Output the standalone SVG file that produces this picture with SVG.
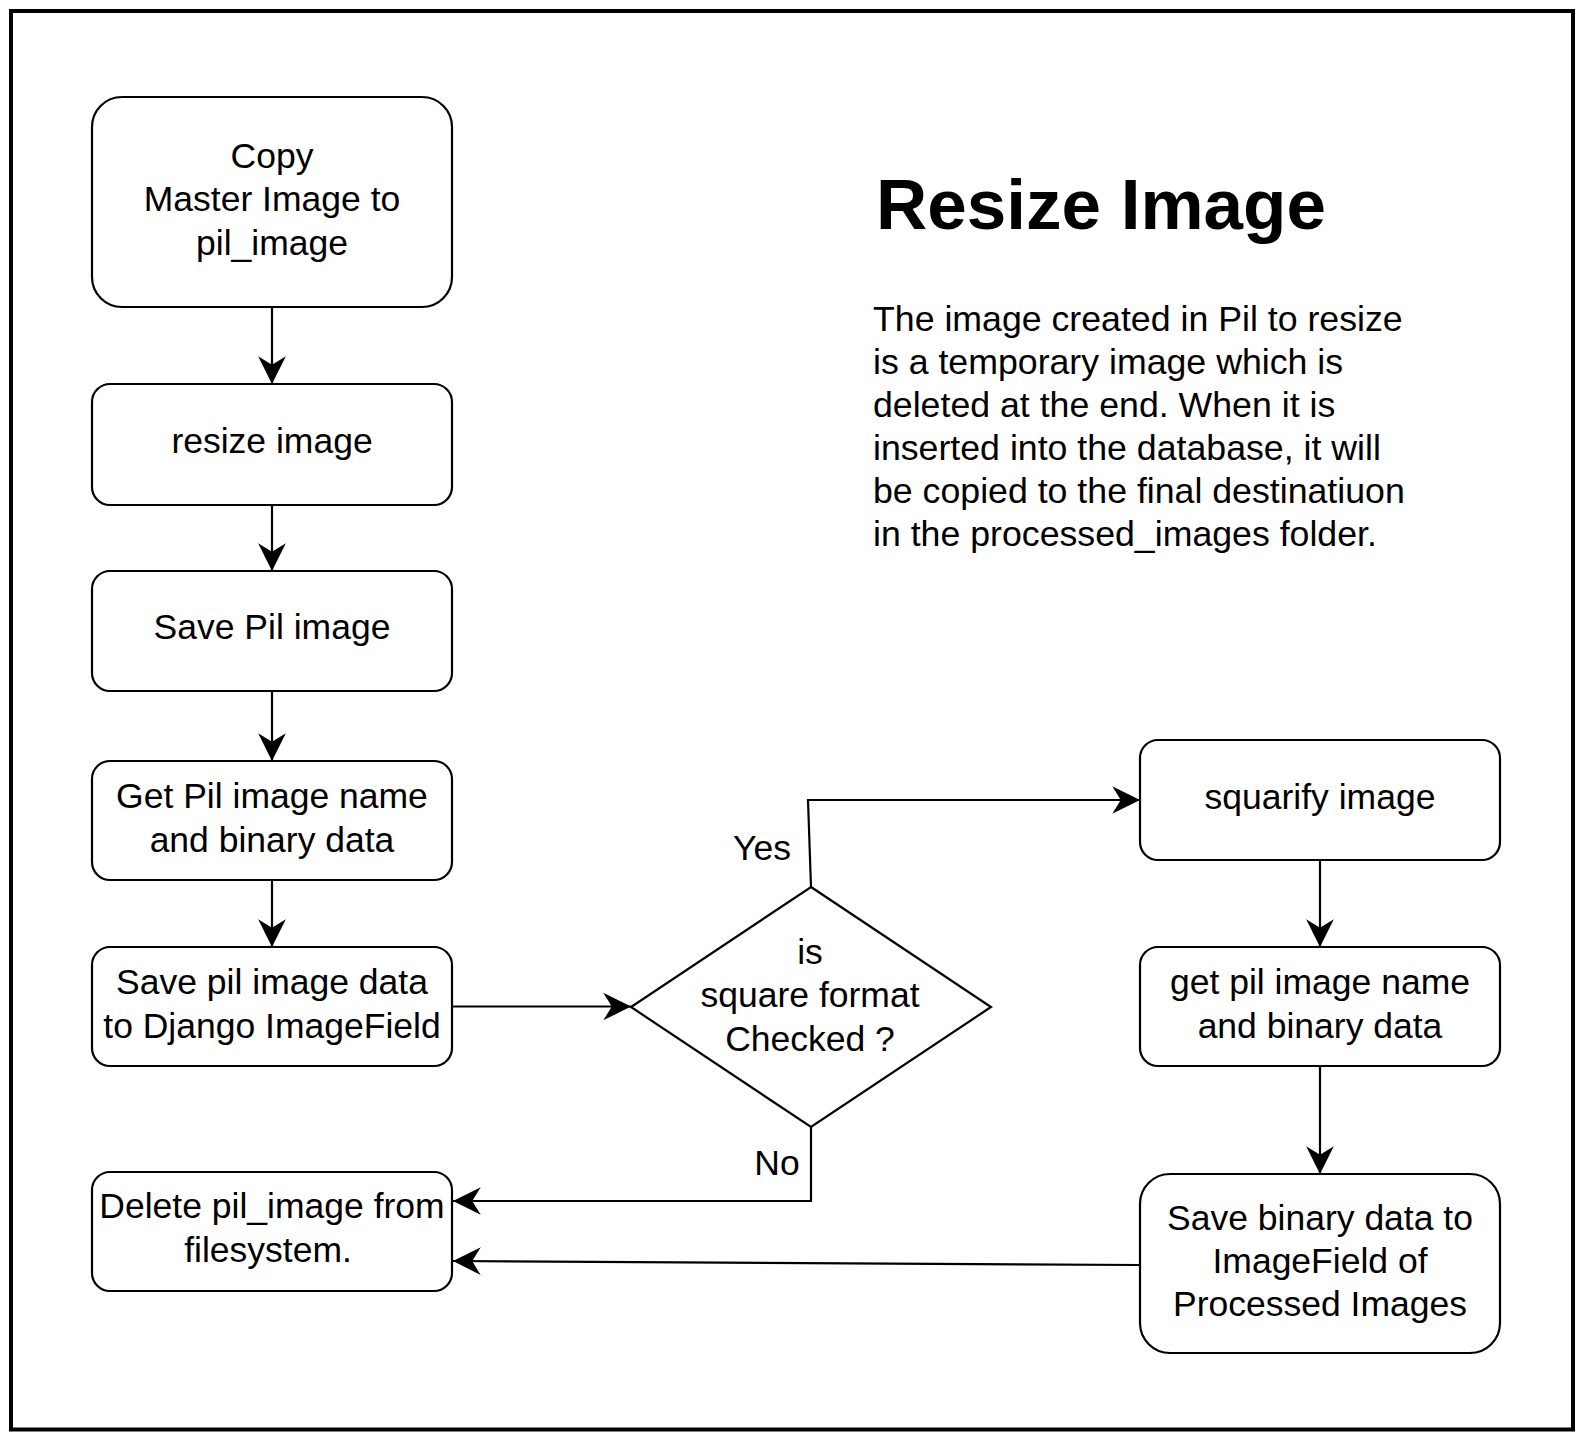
<svg xmlns="http://www.w3.org/2000/svg" width="1586" height="1442" viewBox="0 0 1586 1442">
<defs>
<style>
.box{fill:#fff;stroke:#000;stroke-width:2.2}
.t{font-family:"Liberation Sans",Arial,sans-serif;font-size:35.5px;fill:#000;text-anchor:middle}
.p{font-family:"Liberation Sans",Arial,sans-serif;font-size:35.7px;fill:#000}
.c{fill:none;stroke:#000;stroke-width:2.2}
</style>
<marker id="ah" markerUnits="userSpaceOnUse" markerWidth="32" markerHeight="32" viewBox="-28 -15 30 30" refX="0" refY="0" orient="auto">
<path d="M0,0 L-26,-13 L-18,0 L-26,13 Z" fill="#000"/>
</marker>
</defs>
<rect x="0" y="0" width="1586" height="1442" fill="#fff"/>
<rect x="11" y="11" width="1562" height="1418.5" fill="none" stroke="#000" stroke-width="4"/>

<g id="title">
<text x="876" y="229" font-family="'Liberation Sans',Arial,sans-serif" font-size="71" font-weight="bold">Resize Image</text>
</g>
<g id="note">
<text class="p" x="873" y="331">The image created in Pil to resize</text>
<text class="p" x="873" y="374">is a temporary image which is</text>
<text class="p" x="873" y="417">deleted at the end. When it is</text>
<text class="p" x="873" y="460">inserted into the database, it will</text>
<text class="p" x="873" y="503">be copied to the final destinatiuon</text>
<text class="p" x="873" y="546">in the processed_images folder.</text>
</g>

<g id="connectors">
<line class="c" x1="272" y1="307" x2="272" y2="384" marker-end="url(#ah)"/>
<line class="c" x1="272" y1="505" x2="272" y2="571" marker-end="url(#ah)"/>
<line class="c" x1="272" y1="691" x2="272" y2="761" marker-end="url(#ah)"/>
<line class="c" x1="272" y1="880" x2="272" y2="947" marker-end="url(#ah)"/>
<line class="c" x1="452" y1="1006.5" x2="631" y2="1006.5" marker-end="url(#ah)"/>
<polyline class="c" points="811,887 808,800 1140,800" marker-end="url(#ah)"/>
<polyline class="c" points="811,1127 811,1201 453,1201" marker-end="url(#ah)"/>
<line class="c" x1="1320" y1="860" x2="1320" y2="947" marker-end="url(#ah)"/>
<line class="c" x1="1320" y1="1066" x2="1320" y2="1174" marker-end="url(#ah)"/>
<line class="c" x1="1140" y1="1265" x2="453" y2="1261" marker-end="url(#ah)"/>
<text class="t" x="762" y="860">Yes</text>
<text class="t" x="777" y="1175">No</text>
</g>

<g id="n1">
<rect class="box" x="92" y="97" width="360" height="210" rx="30"/>
<text class="t" x="272" y="168">Copy</text>
<text class="t" x="272" y="211">Master Image to</text>
<text class="t" x="272" y="255">pil_image</text>
</g>
<g id="n2">
<rect class="box" x="92" y="384" width="360" height="121" rx="18"/>
<text class="t" x="272" y="453">resize image</text>
</g>
<g id="n3">
<rect class="box" x="92" y="571" width="360" height="120" rx="18"/>
<text class="t" x="272" y="639">Save Pil image</text>
</g>
<g id="n4">
<rect class="box" x="92" y="761" width="360" height="119" rx="18"/>
<text class="t" x="272" y="808">Get Pil image name</text>
<text class="t" x="272" y="852">and binary data</text>
</g>
<g id="n5">
<rect class="box" x="92" y="947" width="360" height="119" rx="18"/>
<text class="t" x="272" y="994">Save pil image data</text>
<text class="t" x="272" y="1038">to Django ImageField</text>
</g>
<g id="n6">
<rect class="box" x="92" y="1172" width="360" height="119" rx="18"/>
<text class="t" x="272" y="1218">Delete pil_image from</text>
<text class="t" x="268" y="1262">filesystem.</text>
</g>
<g id="decision">
<polygon class="box" points="811,887 991,1007 811,1127 631,1007"/>
<text class="t" x="810" y="964">is</text>
<text class="t" x="810" y="1007">square format</text>
<text class="t" x="810" y="1051">Checked ?</text>
</g>
<g id="r1">
<rect class="box" x="1140" y="740" width="360" height="120" rx="18"/>
<text class="t" x="1320" y="809">squarify image</text>
</g>
<g id="r2">
<rect class="box" x="1140" y="947" width="360" height="119" rx="18"/>
<text class="t" x="1320" y="994">get pil image name</text>
<text class="t" x="1320" y="1038">and binary data</text>
</g>
<g id="r3">
<rect class="box" x="1140" y="1174" width="360" height="179" rx="30"/>
<text class="t" x="1320" y="1230">Save binary data to</text>
<text class="t" x="1320" y="1273">ImageField of</text>
<text class="t" x="1320" y="1316">Processed Images</text>
</g>
</svg>
